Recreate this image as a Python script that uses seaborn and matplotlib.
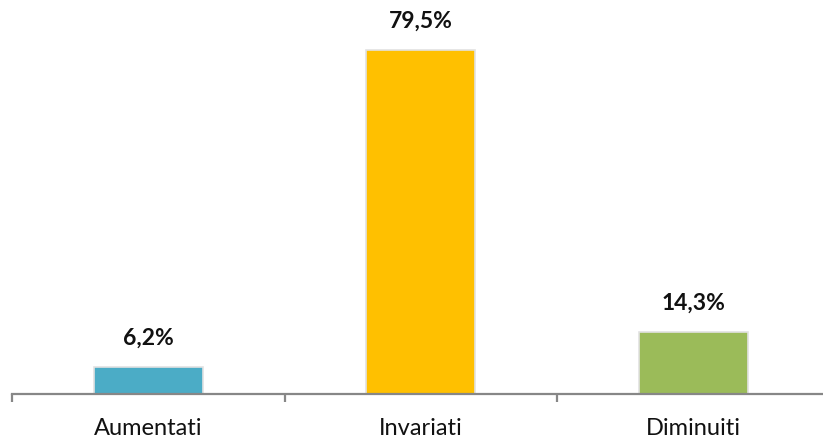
import matplotlib
matplotlib.use("Agg")
import matplotlib.pyplot as plt
import seaborn as sns
import pandas as pd

categories = ["Aumentati", "Invariati", "Diminuiti"]
values = [6.2, 79.5, 14.3]
labels = ["6,2%", "79,5%", "14,3%"]
colors = ["#4BACC6", "#FFC000", "#9BBB59"]

sns.set_style("white")
plt.rcParams['font.family'] = ['Lato', 'DejaVu Sans']

df = pd.DataFrame({"cat": categories, "val": values})

fig = plt.figure(figsize=(8.23, 4.38), dpi=100)
ax = fig.add_axes([12/823, 44/438, 817.5/823, 389.4/438])
sns.barplot(data=df, x="cat", y="val", hue="cat", palette=colors, legend=False,
            width=0.4, ax=ax, edgecolor="#e2e2e2", linewidth=1.2, saturation=1)
ax.set_xlim(-0.5, 2.5)
ax.set_ylim(0, 90)
for i, (v, lab) in enumerate(zip(values, labels)):
    ax.annotate(lab, (i, v), xytext=(0, 13), textcoords="offset points",
                ha="center", va="bottom", fontsize=16.5, fontweight="bold", color="#111111")

for s in ["left", "right", "top"]:
    ax.spines[s].set_visible(False)
ax.spines["bottom"].set_color("#878787")
ax.spines["bottom"].set_linewidth(1.6)
ax.set_yticks([])
ax.set_xticks([-0.5, 0.5, 1.5, 2.5])
ax.set_xticklabels([])
ax.set_xticks([0, 1, 2], minor=True)
ax.set_xticklabels(categories, minor=True, fontsize=17, color="#111111")
ax.tick_params(axis="x", which="major", bottom=True, length=6, width=1.6, color="#878787", direction="out")
ax.tick_params(axis="x", which="minor", bottom=True, length=0, pad=17)
ax.set_xlabel("")
ax.set_ylabel("")
fig.savefig("out.png", dpi=100)
